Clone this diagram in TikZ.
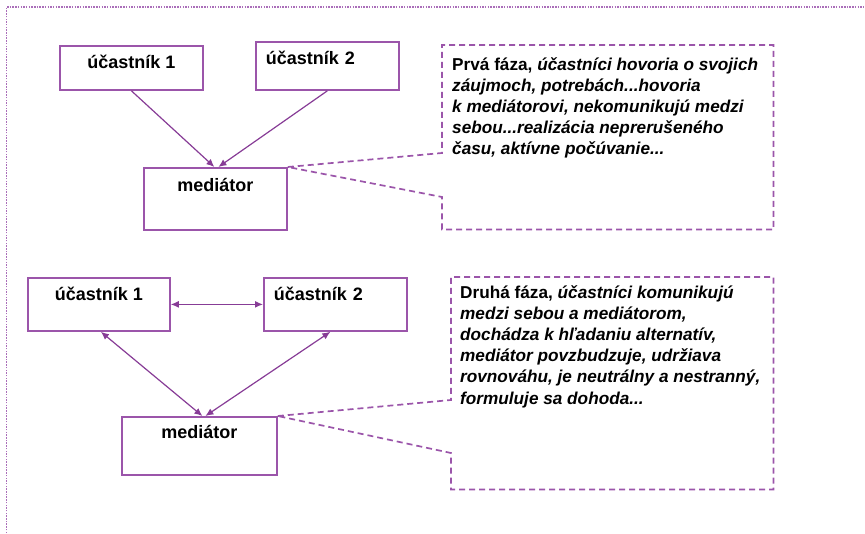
\documentclass[tikz,border=0pt]{standalone}
\usepackage{fontspec}
\setmainfont{Liberation Sans}
\usetikzlibrary{arrows.meta}
\definecolor{boxpurple}{RGB}{155,85,170}
\definecolor{arrowpurple}{RGB}{135,60,150}
\definecolor{framepurple}{RGB}{170,110,185}
\begin{document}
\begin{tikzpicture}[x=1pt, y=-1pt,
      box/.style 2 args = {draw=boxpurple, line width=1.8pt, anchor=north west, inner ysep=0pt,
        align=center, font=\bfseries\fontsize{18}{21}\selectfont, text height=#1, text depth=#2},
      link/.style = {draw=arrowpurple, line width=1.2pt, -{Latex[length=8pt, width=7pt]}},
      twoway/.style = {link, {Latex[length=8pt, width=7pt]}-{Latex[length=8pt, width=7pt]}},
      callout/.style = {draw=boxpurple, line width=1.7pt, dash pattern=on 6pt off 4pt},
      note/.style = {anchor=north west, inner sep=0pt, align=left,
        font=\bfseries\fontsize{17.2}{21.2}\selectfont}]
    \useasboundingbox (0,0) rectangle (865,533);
    \draw[framepurple, line width=1.6pt, dash pattern=on 1.5pt off 1.2pt] (6.5,533) -- (6.5,7) -- (865,7);

    % first phase
    \node[box={23pt}{21pt}, minimum width=143pt] (u1) at (59,45) {účastník 1};
    \node[box={23pt}{25pt}, minimum width=143pt, text width=123pt, inner xsep=10pt, align=left] (u2) at (255,41) {účastník 2};
    \node[box={24pt}{38pt}, minimum width=143pt] (m1) at (143,167) {mediátor};
    \draw[link] (u1.south) -- ([xshift=-1pt]m1.north);
    \draw[link] (u2.south) -- ([xshift=3pt]m1.north);
    \node[anchor=north west, minimum width=331pt, minimum height=184pt, inner sep=0pt] (c1) at (442,45) {};
    \draw[callout] (m1.north east) -- (c1.west |- 0,153) |- (c1.north east) |- (c1.south west) -- (c1.west |- 0,197) -- cycle;
    \node[note] (t1) at (452,57) {Prvá fáza, \textit{účastníci hovoria o svojich}\\
      \textit{záujmoch, potrebách...hovoria}\\
      \textit{k mediátorovi, nekomunikujú medzi}\\
      \textit{sebou...realizácia neprerušeného}\\
      \textit{času, aktívne počúvanie...}};

    % second phase
    \node[box={23pt}{30pt}, minimum width=142pt] (v1) at (27,277) {účastník 1};
    \node[box={23pt}{30pt}, minimum width=143pt, text width=123pt, inner xsep=10pt, align=left] (v2) at (263,277) {účastník 2};
    \node[box={22pt}{36pt}, minimum width=155pt] (m2) at (121,416) {mediátor};
    \draw[twoway] (v1.east) -- (v2.west);
    \draw[twoway] ([xshift=2pt]v1.south) -- ([xshift=3pt]m2.north);
    \draw[twoway] ([xshift=-5pt]v2.south) -- ([xshift=6pt]m2.north);
    \node[anchor=north west, minimum width=322pt, minimum height=212pt, inner sep=0pt] (c2) at (451,277) {};
    \draw[callout] (m2.north east) -- (c2.west |- 0,400) |- (c2.north east) |- (c2.south west) -- (c2.west |- 0,453) -- cycle;
    \node[note] (t2) at (460,285) {Druhá fáza, \textit{účastníci komunikujú}\\
      \textit{medzi sebou a mediátorom,}\\
      \textit{dochádza k hľadaniu alternatív,}\\
      \textit{mediátor povzbudzuje, udržiava}\\
      \textit{rovnováhu, je neutrálny a nestranný,}\\
      \textit{formuluje sa dohoda...}};
\end{tikzpicture}
\end{document}
